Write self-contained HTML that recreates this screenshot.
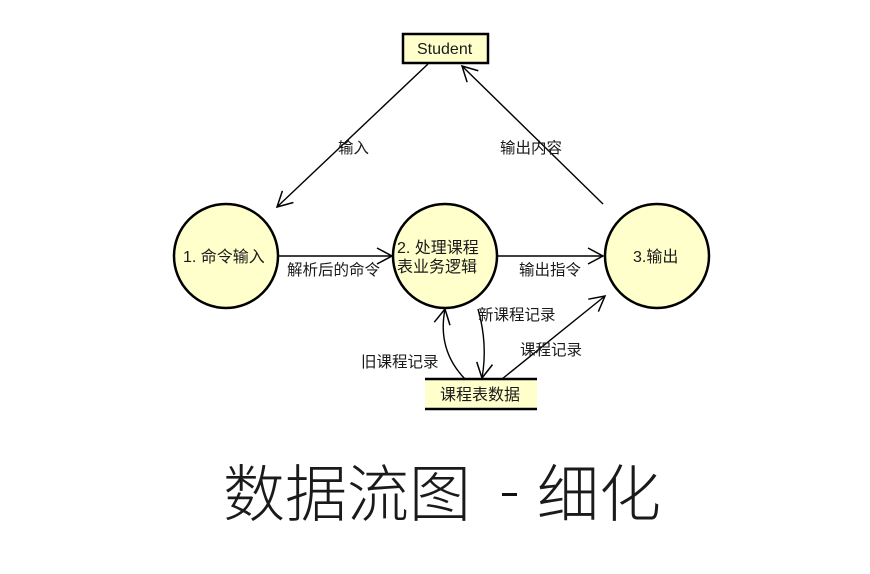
<!DOCTYPE html>
<html><head><meta charset="utf-8"><style>
html,body{margin:0;padding:0;background:#fff;}
svg{display:block;}
text{font-family:"Liberation Sans","Noto Sans CJK SC",sans-serif;fill:#1a1a1a;}
</style></head><body>
<svg width="870" height="574" viewBox="0 0 870 574" xmlns="http://www.w3.org/2000/svg">
<defs>
<marker id="a" markerUnits="userSpaceOnUse" orient="auto" overflow="visible" markerWidth="1" markerHeight="1" refX="0" refY="0">
<path d="M-15,-8 L0,0 L-15,8" fill="none" stroke="#000" stroke-width="1.5"/>
</marker>
</defs>
<!-- Student -->
<rect x="403" y="34" width="85" height="29" fill="#ffffcc" stroke="#000" stroke-width="2.5"/>
<text x="417" y="54" font-size="16">Student</text>
<!-- lines to/from student -->
<line x1="428" y1="64" x2="277" y2="207" stroke="#000" stroke-width="1.4" marker-end="url(#a)"/>
<line x1="603" y1="204" x2="462" y2="66" stroke="#000" stroke-width="1.4" marker-end="url(#a)"/>
<text x="338" y="153" font-size="15.5">输入</text>
<text x="500" y="153" font-size="15.5">输出内容</text>
<!-- circles -->
<circle cx="226" cy="256" r="52" fill="#ffffcc" stroke="#000" stroke-width="2.5"/>
<circle cx="445" cy="256" r="52" fill="#ffffcc" stroke="#000" stroke-width="2.5"/>
<circle cx="657" cy="256" r="52" fill="#ffffcc" stroke="#000" stroke-width="2.5"/>
<text x="183" y="262" font-size="16">1. 命令输入</text>
<text x="397" y="253" font-size="16">2. 处理课程</text>
<text x="397" y="272" font-size="16">表业务逻辑</text>
<text x="633" y="262" font-size="16">3.输出</text>
<!-- horizontal arrows -->
<line x1="278" y1="256" x2="392" y2="256" stroke="#000" stroke-width="1.5" marker-end="url(#a)"/>
<line x1="498" y1="256" x2="603" y2="256" stroke="#000" stroke-width="1.5" marker-end="url(#a)"/>
<text x="287" y="275" font-size="15.5">解析后的命令</text>
<text x="519" y="275" font-size="15.5">输出指令</text>
<!-- data store -->
<rect x="425" y="379" width="112" height="30" fill="#ffffcc"/>
<line x1="425" y1="379" x2="537" y2="379" stroke="#000" stroke-width="2.5"/>
<line x1="425" y1="409" x2="537" y2="409" stroke="#000" stroke-width="2.5"/>
<text x="440" y="400" font-size="16">课程表数据</text>
<!-- curves -->
<path d="M465,379 Q437,350 445,309" fill="none" stroke="#000" stroke-width="1.4" marker-end="url(#a)"/>
<path d="M478,309 Q488,344 482,378" fill="none" stroke="#000" stroke-width="1.4" marker-end="url(#a)"/>
<line x1="502" y1="379" x2="605" y2="296" stroke="#000" stroke-width="1.4" marker-end="url(#a)"/>
<text x="478" y="320" font-size="15.5">新课程记录</text>
<text x="361" y="367" font-size="15.5">旧课程记录</text>
<text x="520" y="355" font-size="15.5">课程记录</text>
<!-- title -->
<text x="223" y="516" font-size="62" font-weight="300" style="font-family:'Noto Sans CJK SC','WenQuanYi Zen Hei',sans-serif">数据流图</text>
<rect x="502" y="493" width="15" height="3" fill="#111"/>
<text x="537" y="516" font-size="62" font-weight="300" style="font-family:'Noto Sans CJK SC','WenQuanYi Zen Hei',sans-serif">细化</text>
</svg>
</body></html>
